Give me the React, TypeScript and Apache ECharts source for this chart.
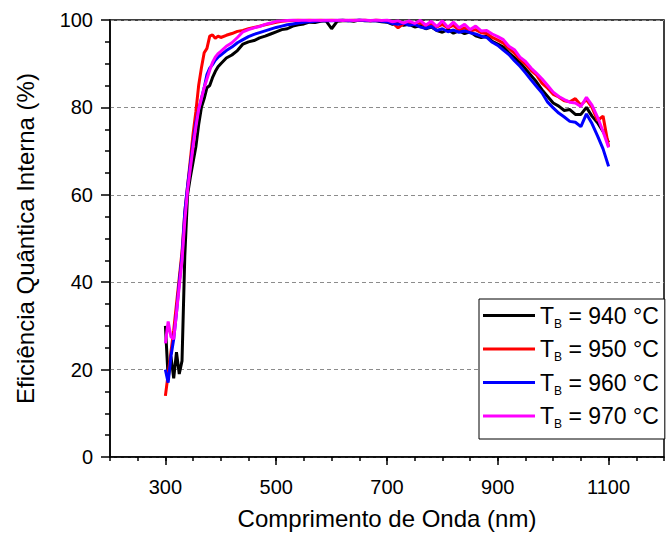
import { useEffect, useRef } from 'react';
import * as echarts from 'echarts';

const wavelengths = [
  300, 305, 310, 315, 320, 325, 330, 335, 340, 345,
  350, 355, 360, 365, 370, 375, 380, 385, 390, 395,
  400, 410, 420, 430, 440, 450, 460, 470, 480, 490,
  500, 510, 520, 530, 540, 550, 560, 570, 580, 590,
  600, 610, 620, 630, 640, 650, 660, 670, 680, 690,
  700, 710, 720, 730, 740, 750, 760, 770, 780, 790,
  800, 810, 820, 830, 840, 850, 860, 870, 880, 890,
  900, 910, 920, 930, 940, 950, 960, 970, 980, 990,
  1000, 1010, 1020, 1030, 1040, 1050, 1060, 1070, 1080, 1090,
  1100,
];

const eqi940 = [
  30, 18, 23, 18, 24, 19, 22, 46, 60, 64,
  67.5, 71, 76, 80, 82, 84.5, 85, 86.8, 88.2, 89.3,
  90, 91.3, 92, 93, 94.5, 95, 95.3, 95.9, 96.3, 96.8,
  97.3, 97.8, 98, 98.6, 98.9, 99.1, 99.5, 99.4, 99.7, 99.8,
  98, 99.7, 99.8, 99.9, 99.7, 100, 99.8, 99.9, 99.8, 99.6,
  99.5, 99, 99.3, 98.8, 99, 98.4, 98.7, 98, 98.4, 97.6,
  97.2, 97.8, 97, 97.5, 96.9, 97.3, 96.4, 96, 96.3, 95.1,
  94.5, 93.8, 92.5, 91.4, 90.3, 88.8, 87.3, 85.8, 84, 82.5,
  81, 80.3, 79.3, 79.5, 78.4, 78.4, 80, 78, 76.5, 74.5,
  72,
];

const eqi950 = [
  14, 19, 24, 29, 35, 41, 47, 56, 62, 68,
  74, 79, 85, 89, 92.5, 93.5, 96.3, 96.6, 95.8, 96.3,
  96, 96.5, 96.9, 97.4, 97.6, 98, 98.3, 98.6, 98.9, 99.2,
  99.5, 99.7, 99.8, 99.9, 100, 99.9, 100, 99.9, 100, 99.9,
  100, 99.9, 100, 99.9, 100, 99.9, 100, 99.8, 100, 99.9,
  99.8, 99.4, 98.2, 99.2, 99.5, 99, 99.4, 98.7, 99.2, 98.4,
  99, 98.2, 98.8, 97.7, 98.2, 97.5, 97.8, 97.1, 96.9, 96,
  95.4, 94.7, 93.5, 92.4, 91, 89.9, 88.5, 87.4, 85.5, 84.4,
  83, 82.4, 81.5, 81.3, 82, 80.5, 81.8, 80, 77, 78,
  71,
];

const eqi960 = [
  20, 17, 23, 27, 33, 40, 46, 56, 62, 67,
  72, 76.5, 79.5, 82, 84.5, 87.5, 89, 89.8, 90.8, 91.5,
  92, 93, 93.8, 94.8, 95.5, 96.2, 96.7, 97.1, 97.5, 97.9,
  98.3, 98.6, 98.9, 99.1, 99.3, 99.5, 99.6, 99.7, 99.8, 99.9,
  99.8, 99.9, 100, 99.8, 99.9, 100, 99.9, 99.8, 99.9, 99.7,
  99.6, 99.2, 99, 99.3, 98.8, 99, 98.4, 98.1, 98.5, 97.6,
  98, 97.3, 97.7, 97.2, 97.5, 97.1, 96.8, 96.3, 96, 94.9,
  94.2, 93.1, 92.1, 90.7, 89.4, 87.9, 86.3, 84.8, 83.3, 81.2,
  79.9, 78.7, 77.8, 76.8, 76.6, 75.6, 78.5, 76.3, 73.5, 70.5,
  66.5,
];

const eqi970 = [
  26, 31, 27.5, 27, 33, 39, 45, 54, 61, 66,
  71, 75.5, 79.5, 82, 84.5, 86.5, 88.5, 90.3, 91.5, 92.3,
  92.8, 94, 94.8, 96, 97.3, 97.8, 98.2, 98.5, 99, 99.3,
  99.7, 99.8, 99.9, 100, 99.9, 100, 99.9, 100, 99.9, 100,
  99.9, 100, 99.9, 100, 99.9, 100, 100, 99.9, 100, 99.9,
  100, 99.6, 99.8, 99.3, 99.8, 99.2, 99.9, 98.8, 99.7, 98.5,
  99.8, 98.3, 99.5, 98.2, 99, 97.8, 98.6, 97.5, 97.6, 96.8,
  96.2, 95.5, 94, 93.2, 91.5, 90.5, 89, 87.8, 86.5, 85,
  83.5, 82.5, 81.8, 81.2, 81, 80.2, 82.3, 80.5, 77.8, 74.5,
  70.8,
];

const temperatures = [940, 950, 960, 970];
const seriesValues = [eqi940, eqi950, eqi960, eqi970];
const seriesColors = ['#000000', '#ff0000', '#0000ff', '#ff00ff'];

const xTicks = [
  200, 250, 300, 350, 400, 450, 500, 550, 600, 650,
  700, 750, 800, 850, 900, 950, 1000, 1050, 1100, 1150, 1200,
];
const xLabelTicks = [300, 500, 700, 900, 1100];

const FONT = '"Liberation Sans", Arial, Helvetica, sans-serif';

export default function App() {
  const ref = useRef<HTMLDivElement>(null);

  useEffect(() => {
    if (!ref.current) return;
    const chart = echarts.init(ref.current, undefined, { renderer: 'svg' });
    const names = temperatures.map((t) => `T_B = ${t} °C`);
    const axisLineStyle = { color: '#000', width: 1.5 };

    chart.setOption({
      animation: false,
      backgroundColor: '#fff',
      textStyle: { fontFamily: FONT, color: '#000' },
      grid: {
        left: 110,
        right: 1,
        top: 20,
        bottom: 76,
        show: true,
        borderColor: '#000',
        borderWidth: 1.5,
        backgroundColor: 'transparent',
      },
      legend: {
        data: names,
        orient: 'vertical',
        left: 479,
        top: 299,
        padding: [5, 6, 9, 4],
        itemGap: 8,
        itemWidth: 52,
        itemHeight: 3,
        icon: 'rect',
        backgroundColor: '#fff',
        borderColor: '#000',
        borderWidth: 1,
        borderRadius: 0,
        selectedMode: false,
        formatter: (name: string) => {
          const rest = name.replace('T_B', '');
          return `{t|T}{s|B}{t|${rest}}`;
        },
        textStyle: {
          fontFamily: FONT,
          color: '#000',
          rich: {
            t: { fontSize: 23, lineHeight: 28, fontFamily: FONT, color: '#000' },
            s: { fontSize: 12, lineHeight: 8, verticalAlign: 'bottom', fontFamily: FONT, color: '#000' },
          },
        },
      },
      xAxis: [
        {
          type: 'value',
          min: 200,
          max: 1200,
          interval: 50,
          name: 'Comprimento de Onda (nm)',
          nameLocation: 'middle',
          nameGap: 49,
          nameTextStyle: { fontSize: 24, fontFamily: FONT, color: '#000' },
          axisLine: { show: true, onZero: false, lineStyle: axisLineStyle },
          axisTick: { show: true, inside: false, length: 4, lineStyle: axisLineStyle },
          axisLabel: {
            fontSize: 20,
            color: '#000',
            fontFamily: FONT,
            margin: 20,
            formatter: (v: number) => (xLabelTicks.includes(v) ? String(v) : ''),
          },
          splitLine: { show: false },
        },
        {
          type: 'category',
          data: xTicks.map(String),
          boundaryGap: false,
          position: 'bottom',
          axisLine: { show: false },
          axisLabel: { show: false },
          axisTick: {
            show: true,
            length: 8,
            interval: (i: number) => xLabelTicks.includes(xTicks[i]),
            lineStyle: axisLineStyle,
          },
          splitLine: { show: false },
        },
      ],
      yAxis: {
        type: 'value',
        min: 0,
        max: 100,
        interval: 20,
        name: 'Eficiência Quântica Interna (%)',
        nameLocation: 'middle',
        nameGap: 73,
        nameTextStyle: { fontSize: 24, fontFamily: FONT, color: '#000' },
        axisLine: { show: true, onZero: false, lineStyle: axisLineStyle },
        axisTick: { show: true, length: 9, lineStyle: axisLineStyle },
        minorTick: { show: true, splitNumber: 4, length: 5, lineStyle: axisLineStyle },
        axisLabel: { fontSize: 20, color: '#000', fontFamily: FONT, margin: 17 },
        splitLine: { show: true, lineStyle: { color: '#8c8c8c', type: [4, 3], width: 1 } },
      },
      series: names.map((name, k) => ({
        name,
        type: 'line',
        xAxisIndex: 0,
        data: wavelengths.map((w, i) => [w, seriesValues[k][i]]),
        showSymbol: false,
        symbol: 'none',
        lineStyle: { width: 3, color: seriesColors[k] },
        itemStyle: { color: seriesColors[k] },
        color: seriesColors[k],
        z: 2 + k,
      })),
    });

    return () => chart.dispose();
  }, []);

  return (
    <div
      ref={ref}
      style={{ position: 'absolute', left: 0, top: 0, width: 667, height: 535 }}
    />
  );
}
